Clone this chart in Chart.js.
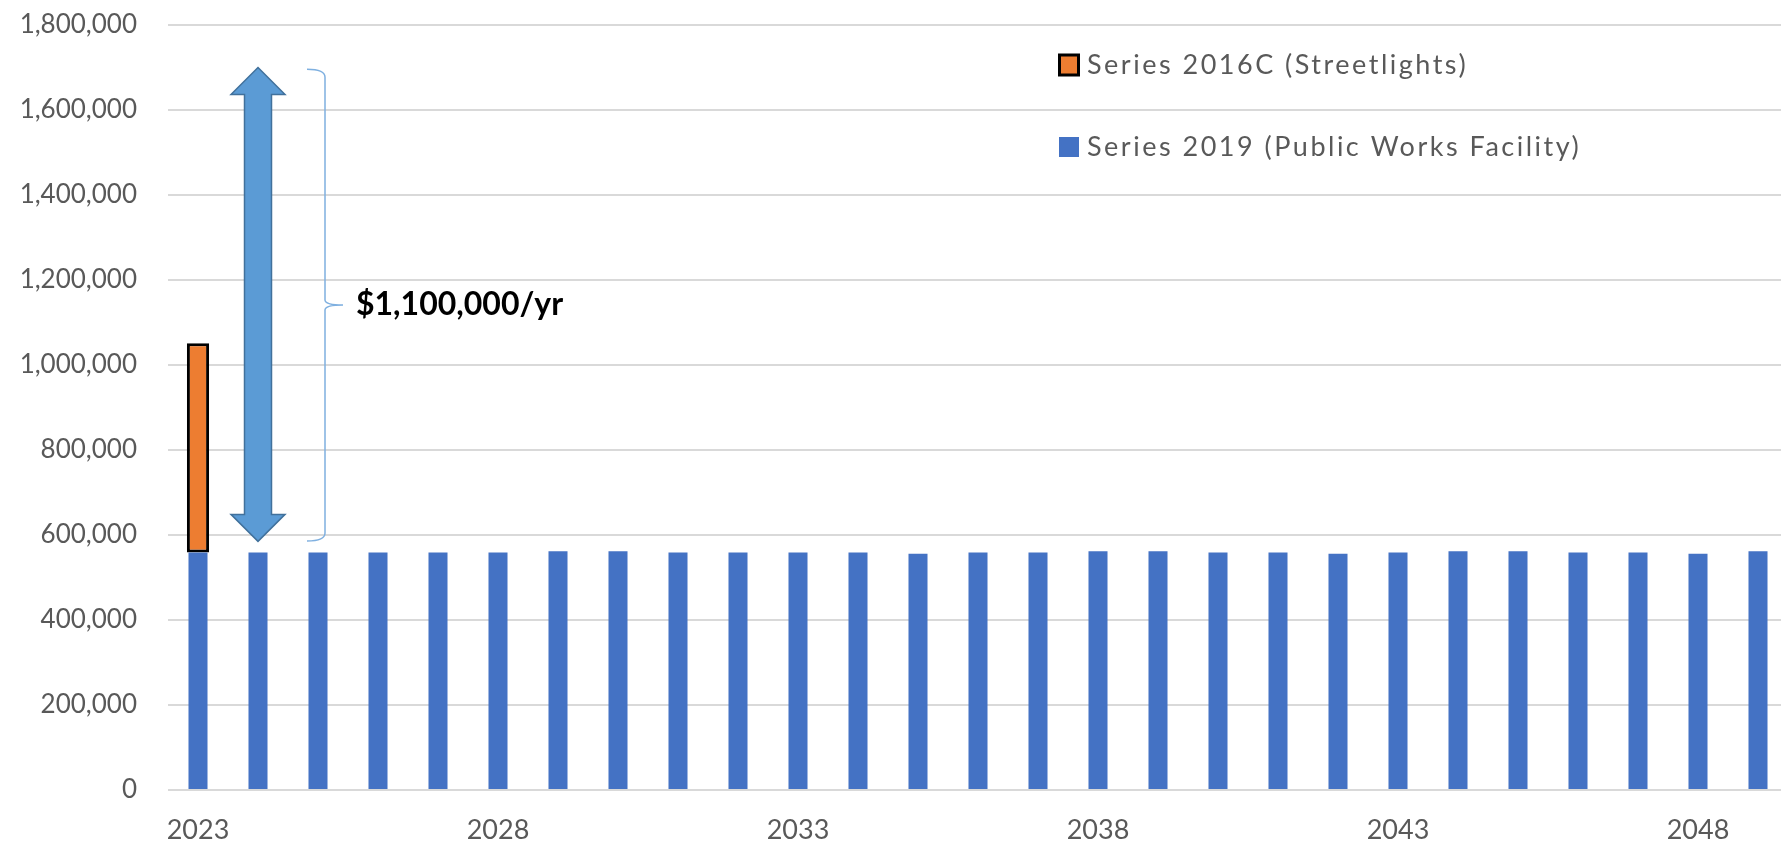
<!DOCTYPE html>
<html>
<head>
<meta charset="utf-8">
<script src="https://cdn.jsdelivr.net/npm/chart.js@4/dist/chart.umd.min.js"></script>
<style>
  html, body { margin: 0; padding: 0; background: #fff; overflow: hidden; }
  #wrap { position: relative; width: 1790px; height: 842px; }
</style>
</head>
<body>
<div id="wrap"><canvas id="chart"></canvas></div>
<script>
// Debt service by year
const years = [2023, 2024, 2025, 2026, 2027, 2028, 2029, 2030, 2031, 2032, 2033, 2034, 2035,
  2036, 2037, 2038, 2039, 2040, 2041, 2042, 2043, 2044, 2045, 2046, 2047, 2048, 2049];

const publicWorks = [559000, 559000, 559000, 559000, 559000, 559000, 562000, 562000, 559000,
  559000, 559000, 559000, 556000, 559000, 559000, 562000, 562000, 559000, 559000, 556000,
  559000, 562000, 562000, 559000, 559000, 556000, 562000];

const streetlights = [492000];

const yTicks = [0, 200000, 400000, 600000, 800000, 1000000, 1200000, 1400000, 1600000, 1800000];

// annotation: double arrow + brace
const arrowTop = 1700000;
const arrowBottom = 585000;
const braceTop = 1696000;
const braceBottom = 586000;
const annotationText = '$1,100,000/yr';

const FONT = 'Lato, "Open Sans", sans-serif';
const GREY = '#595959';

// custom legend and annotation drawn on top of the chart
const overlayPlugin = {
  id: 'overlay',
  afterDraw(chart) {
    const ctx = chart.ctx;
    const x = chart.scales.x;
    const y = chart.scales.y;
    ctx.save();

    // double-headed arrow over 2024
    const cx = x.getPixelForValue(1);
    const top = y.getPixelForValue(arrowTop);
    const bot = y.getPixelForValue(arrowBottom);
    const headH = 27, headW = 27, shaftW = 13.5;
    ctx.beginPath();
    ctx.moveTo(cx, top);
    ctx.lineTo(cx + headW, top + headH);
    ctx.lineTo(cx + shaftW, top + headH);
    ctx.lineTo(cx + shaftW, bot - headH);
    ctx.lineTo(cx + headW, bot - headH);
    ctx.lineTo(cx, bot);
    ctx.lineTo(cx - headW, bot - headH);
    ctx.lineTo(cx - shaftW, bot - headH);
    ctx.lineTo(cx - shaftW, top + headH);
    ctx.lineTo(cx - headW, top + headH);
    ctx.closePath();
    ctx.fillStyle = '#5B9BD5';
    ctx.fill();
    ctx.lineWidth = 1.5;
    ctx.strokeStyle = '#41719C';
    ctx.stroke();

    // right brace
    const bt = y.getPixelForValue(braceTop);
    const bb = y.getPixelForValue(braceBottom);
    const bm = (bt + bb) / 2;
    const endX = cx + 49, spineX = cx + 67, tipX = cx + 85;
    ctx.beginPath();
    ctx.moveTo(endX, bt);
    ctx.quadraticCurveTo(spineX, bt, spineX, bt + 8);
    ctx.lineTo(spineX, bm - 5);
    ctx.quadraticCurveTo(spineX, bm, tipX, bm);
    ctx.quadraticCurveTo(spineX, bm, spineX, bm + 5);
    ctx.lineTo(spineX, bb - 8);
    ctx.quadraticCurveTo(spineX, bb, endX, bb);
    ctx.lineWidth = 1.5;
    ctx.strokeStyle = '#7FB0E0';
    ctx.stroke();

    ctx.fillStyle = '#000';
    ctx.font = 'bold 32px ' + FONT;
    ctx.textAlign = 'left';
    ctx.textBaseline = 'middle';
    ctx.fillText(annotationText, cx + 98, bm);

    // legend: streetlights first, public works second
    const items = [chart.data.datasets[1], chart.data.datasets[0]];
    const legendX = 1058;
    const rows = [65, 147];
    ctx.font = '27px ' + FONT;
    ctx.letterSpacing = '2.5px';
    items.forEach((ds, i) => {
      const ry = rows[i];
      if (ds.borderWidth > 0) {
        ctx.fillStyle = ds.borderColor;
        ctx.fillRect(legendX, ry - 11.5, 22, 23);
        ctx.fillStyle = ds.backgroundColor;
        ctx.fillRect(legendX + 3, ry - 8.5, 16, 17);
      } else {
        ctx.fillStyle = ds.backgroundColor;
        ctx.fillRect(legendX + 1, ry - 10, 20, 20);
      }
      ctx.fillStyle = GREY;
      ctx.fillText(ds.label, 1087, ry);
    });

    ctx.restore();
  }
};

new Chart(document.getElementById('chart'), {
  type: 'bar',
  data: {
    labels: years,
    datasets: [{
      label: 'Series 2019 (Public Works Facility)',
      data: publicWorks,
      backgroundColor: '#4472C4',
      borderWidth: 0,
      barPercentage: 0.317,
      categoryPercentage: 1
    }, {
      label: 'Series 2016C (Streetlights)',
      data: streetlights,
      backgroundColor: '#ED7D31',
      borderColor: '#000000',
      borderWidth: 3,
      borderSkipped: false,
      barPercentage: 0.37,
      categoryPercentage: 1
    }]
  },
  options: {
    responsive: true,
    maintainAspectRatio: false,
    animation: false,
    layout: { padding: { top: 25, right: 2, left: 0, bottom: 0 } },
    plugins: {
      legend: { display: false },
      tooltip: { enabled: false }
    },
    scales: {
      x: {
        stacked: true,
        grid: { display: false, drawTicks: false },
        border: { display: false },
        ticks: {
          autoSkip: false,
          maxRotation: 0,
          padding: 24,
          color: GREY,
          font: { family: FONT, size: 27 },
          callback: function(value, index) {
            return index % 5 === 0 ? String(years[index]) : '';
          }
        },
        afterFit: function(scale) {
          scale.height = 52;
          scale.paddingLeft = 0;
          scale.paddingRight = 0;
        }
      },
      y: {
        stacked: true,
        min: 0,
        max: 1800000,
        afterBuildTicks: function(scale) {
          scale.ticks = yTicks.map(v => ({ value: v }));
        },
        grid: { color: '#D9D9D9', lineWidth: 2, drawTicks: false },
        border: { display: false },
        ticks: {
          padding: 31,
          color: GREY,
          font: { family: FONT, size: 26 },
          callback: function(value) {
            return Number(value).toLocaleString('en-US');
          }
        },
        afterFit: function(scale) {
          scale.width = 168;
          scale.paddingTop = 0;
          scale.paddingBottom = 0;
        }
      }
    }
  },
  plugins: [overlayPlugin]
});
</script>
</body>
</html>
